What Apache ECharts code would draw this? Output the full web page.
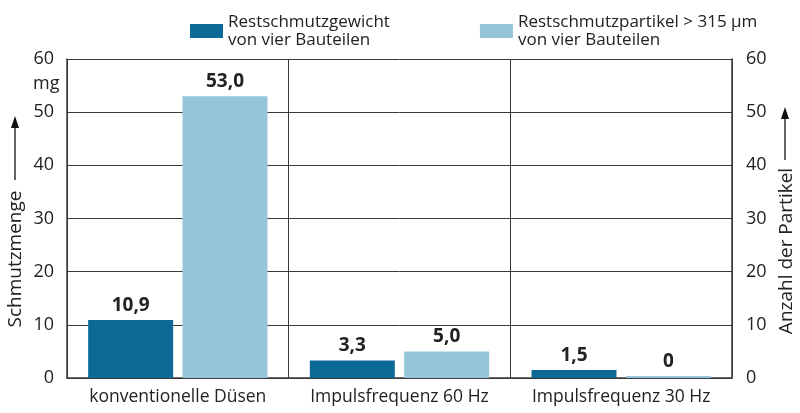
<!DOCTYPE html>
<html>
<head>
<meta charset="utf-8">
<script src="https://cdn.jsdelivr.net/npm/echarts@6/dist/echarts.min.js"></script>
<style>
html, body { margin: 0; padding: 0; background: #fff; }
#chart { width: 800px; height: 413px; }
</style>
</head>
<body>
<div id="chart"></div>
<script>
// Kategorien und Werte
var categories = ['konventionelle Düsen', 'Impulsfrequenz 60 Hz', 'Impulsfrequenz 30 Hz'];
var gewicht = [10.9, 3.3, 1.5];
var partikel = [53.0, 5.0, 0];
var seriesNames = ['Restschmutzgewicht\nvon vier Bauteilen', 'Restschmutzpartikel > 315 µm\nvon vier Bauteilen'];
var yMin = 0, yMax = 60, yStep = 10;

var FONT = '"Open Sans", sans-serif';
var TXT = '#222';
var LINE = '#3a3a3a';

function fmt(p) {
	var v = p.value;
	return v === 0 ? '0' : v.toFixed(1).replace('.', ',');
}

var chart = echarts.init(document.getElementById('chart'));

chart.setOption({
	animation: false,
	textStyle: { fontFamily: FONT },
	legend: {
		top: 8,
		left: 185,
		itemWidth: 33,
		itemHeight: 14,
		itemGap: 90,
		icon: 'rect',
		textStyle: { fontFamily: FONT, fontSize: 17, color: TXT, lineHeight: 18 },
		data: seriesNames
	},
	grid: { left: 67, right: 68, top: 59, bottom: 35 },
	xAxis: {
		type: 'category',
		data: categories,
		axisLine: { lineStyle: { color: LINE, width: 1.5 } },
		axisTick: { show: false },
		axisLabel: { interval: 0, fontFamily: FONT, fontSize: 17.5, color: TXT, margin: 10 },
		splitLine: { show: true, interval: 0, lineStyle: { color: LINE, width: 1 } }
	},
	yAxis: [{
		type: 'value',
		min: yMin, max: yMax, interval: yStep,
		axisLine: { show: true, lineStyle: { color: LINE, width: 1.5 } },
		axisTick: { show: false },
		axisLabel: { fontFamily: FONT, fontSize: 18, color: TXT, margin: 13 },
		splitLine: { lineStyle: { color: LINE, width: 1 } }
	}, {
		type: 'value',
		min: yMin, max: yMax, interval: yStep,
		axisLine: { show: true, lineStyle: { color: LINE, width: 1.5 } },
		axisTick: { show: false },
		axisLabel: { fontFamily: FONT, fontSize: 18, color: TXT, margin: 14 },
		splitLine: { show: false }
	}],
	series: [{
		name: seriesNames[0],
		type: 'bar',
		data: gewicht,
		barWidth: 85,
		barGap: '11%',
		itemStyle: { color: '#0d6a96' },
		label: { show: true, position: 'top', distance: 5, formatter: fmt,
			fontFamily: FONT, fontSize: 19, fontWeight: 'bold', color: TXT }
	}, {
		name: seriesNames[1],
		type: 'bar',
		data: partikel,
		barWidth: 85,
		barMinHeight: 2,
		itemStyle: { color: '#94c5da' },
		label: { show: true, position: 'top', distance: 5, formatter: fmt,
			fontFamily: FONT, fontSize: 19, fontWeight: 'bold', color: TXT }
	}],
	graphic: [
		{ type: 'text', left: 33, top: 75,
			style: { text: 'mg', font: '18px ' + FONT, fill: TXT } },
		// linke Achsenbeschriftung mit Pfeil
		{ type: 'text', x: 16, y: 259, rotation: Math.PI / 2,
			style: { text: 'Schmutzmenge', font: '19px ' + FONT, fill: TXT,
				textAlign: 'center', textVerticalAlign: 'middle' } },
		{ type: 'line', shape: { x1: 15, y1: 180, x2: 15, y2: 124 },
			style: { stroke: '#111', lineWidth: 1.3 } },
		{ type: 'polygon', shape: { points: [[15, 116], [11, 128], [19, 128]] },
			style: { fill: '#111' } },
		// rechte Achsenbeschriftung mit Pfeil
		{ type: 'text', x: 787, y: 251, rotation: Math.PI / 2,
			style: { text: 'Anzahl der Partikel', font: '19px ' + FONT, fill: TXT,
				textAlign: 'center', textVerticalAlign: 'middle' } },
		{ type: 'line', shape: { x1: 785, y1: 160, x2: 785, y2: 115 },
			style: { stroke: '#111', lineWidth: 1.3 } },
		{ type: 'polygon', shape: { points: [[785, 107], [781, 119], [789, 119]] },
			style: { fill: '#111' } }
	]
});
</script>
</body>
</html>
